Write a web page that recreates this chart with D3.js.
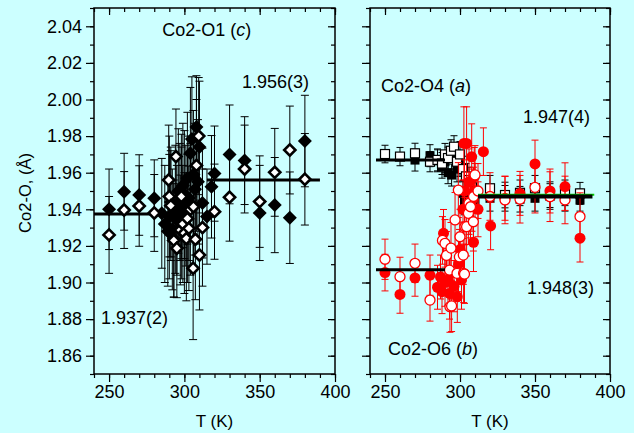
<!DOCTYPE html>
<html><head><meta charset="utf-8">
<script src="https://cdn.jsdelivr.net/npm/d3@7"></script>
<style>
body{margin:0;background:#ccffff;}
svg{display:block;font-family:"Liberation Sans",Arial,sans-serif;}
</style>
</head><body>
<svg id="chart" width="634" height="433"></svg>
<script>
// ---- Co2-O1 (c): filled and open diamonds ----
const o1FilledT = [250,260,270,280,285,287,289,290,291,292,293,294,295,296,297,298,299,300,301,302,303,304,305,306,307,308,309,310,312,315,318,320,330,340,350,360,370,380];
const o1FilledV = [1.940,1.9496,1.9478,1.946,1.9378,1.932,1.928,1.936,1.944,1.929,1.924,1.940,1.934,1.950,1.944,1.938,1.953,1.948,1.942,1.957,1.946,1.9706,1.9784,1.959,1.951,1.985,1.955,1.974,1.9434,1.936,1.9523,1.9595,1.970,1.9666,1.938,1.9423,1.9354,1.9773];
const o1FilledE = [0.022,0.021,0.022,0.021,0.030,0.032,0.030,0.034,0.030,0.033,0.032,0.035,0.030,0.034,0.032,0.036,0.034,0.035,0.033,0.036,0.034,0.036,0.034,0.035,0.036,0.028,0.034,0.036,0.030,0.026,0.028,0.026,0.027,0.024,0.026,0.026,0.025,0.025];

const o1OpenT = [250,260,270,280,289.6,290,291,293,294.4,295,297.3,298,299,300,301.3,302,303,304,305.8,306,307.3,308,309.5,310,312,320,330,340,350,360,370,380];
const o1OpenV = [1.926,1.9396,1.9418,1.938,1.956,1.947,1.942,1.923,1.9688,1.9187,1.9287,1.947,1.932,1.927,1.924,1.935,1.9296,1.940,1.9078,1.9414,1.9236,1.964,1.980,1.915,1.930,1.9387,1.9466,1.962,1.9442,1.9602,1.9724,1.9564];
const o1OpenE = [0.021,0.021,0.022,0.021,0.030,0.033,0.030,0.031,0.026,0.027,0.030,0.034,0.032,0.033,0.034,0.035,0.034,0.036,0.039,0.035,0.033,0.036,0.032,0.030,0.032,0.026,0.024,0.024,0.025,0.024,0.024,0.025];

// ---- Co2-O4 (a): filled and open squares ----
const o4FilledT = [270,280,285,288,290,292,294.4,296,298,300,302,303,305,307,310,320,330,340,350,360,370,380];
const o4FilledV = [1.9669,1.9693,1.9665,1.963,1.966,1.960,1.9587,1.968,1.962,1.965,1.9487,1.944,1.946,1.948,1.945,1.946,1.946,1.9455,1.946,1.947,1.946,1.945];
const o4FilledE = [0.006,0.006,0.006,0.006,0.006,0.006,0.006,0.006,0.007,0.007,0.007,0.007,0.007,0.007,0.007,0.007,0.007,0.007,0.007,0.007,0.007,0.006];

const o4OpenT = [250,260,270,280,285,288,290,292,294,296,298,300,302,304,306,308,310,320,330,340,350,360,370,380];
const o4OpenV = [1.9702,1.9688,1.9706,1.966,1.967,1.965,1.970,1.968,1.972,1.9742,1.966,1.970,1.962,1.958,1.956,1.952,1.950,1.9515,1.9478,1.949,1.9515,1.948,1.949,1.9487];
const o4OpenE = [0.0048,0.005,0.0055,0.0055,0.006,0.006,0.006,0.006,0.006,0.006,0.006,0.007,0.007,0.007,0.007,0.007,0.007,0.007,0.007,0.007,0.007,0.007,0.007,0.006];

// ---- Co2-O6 (b): filled and open circles ----
const o6FilledT = [250,260,270,280,285,287,288,289,290,292,293,294,296,298.2,299,300,301,302,302.6,303,304.4,306,307.8,308,309,309.5,310,312,315.6,320.4,330,340,350,360,370,380];
const o6FilledV = [1.9054,1.8935,1.9025,1.904,1.8974,1.903,1.895,1.9269,1.900,1.9014,1.894,1.905,1.898,1.8922,1.910,1.918,1.9014,1.940,1.976,1.950,1.976,1.955,1.9687,1.945,1.922,1.9578,1.950,1.940,1.9715,1.9309,1.946,1.9487,1.9648,1.950,1.9524,1.9242];
const o6FilledE = [0.010,0.0103,0.010,0.011,0.012,0.012,0.012,0.013,0.013,0.014,0.014,0.014,0.014,0.014,0.015,0.015,0.016,0.016,0.020,0.017,0.020,0.018,0.018,0.017,0.016,0.016,0.015,0.015,0.013,0.013,0.012,0.012,0.013,0.012,0.013,0.013];

const o6OpenT = [250,260,270,280,288.3,290,291,293,293.3,294,294.4,296.7,298,298.9,299.6,300,302.2,302.4,303,303.3,304.4,305.6,306,307,308.9,309,310,312,320,330,340,350,360,370,380];
const o6OpenV = [1.9127,1.9032,1.9105,1.8904,1.923,1.9214,1.9148,1.9068,1.8868,1.9188,1.8872,1.9342,1.905,1.9505,1.914,1.925,1.915,1.905,1.9046,1.9305,1.9305,1.9378,1.9433,1.9414,1.9332,1.947,1.9588,1.950,1.947,1.9451,1.9455,1.952,1.9469,1.9451,1.936];
const o6OpenE = [0.011,0.0106,0.0105,0.0115,0.013,0.013,0.013,0.014,0.014,0.014,0.014,0.015,0.014,0.015,0.015,0.015,0.016,0.016,0.016,0.016,0.016,0.017,0.017,0.017,0.016,0.016,0.016,0.015,0.013,0.013,0.013,0.014,0.0136,0.013,0.013];

// ---- fitted average levels ----
const o1FitT = [[240,285],[315,390]];
const o1FitV = [1.9375,1.956];
const lowFitT = [[244,290],[244,290]];
const lowFitV = [1.967,1.907];
const o6HighFitT = [312,389.5];
const o6HighFitV = 1.948;
const o4HighFitT = [312,388.3];
const o4HighFitV = 1.947;

const xTicksMajor = [250,300,350,400];
const yTicksMajor = [1.86,1.88,1.90,1.92,1.94,1.96,1.98,2.00,2.02,2.04];

const svg = d3.select("#chart");
const yScale = d3.scaleLinear().domain([1.85,2.05]).range([374,8]);
const xLeft = d3.scaleLinear().domain([240,400]).range([94,335]);
const xRight = d3.scaleLinear().domain([240,400]).range([370,610]);
const minorX = d3.range(240,401,10);
const minorY = d3.range(1.85,2.0501,0.01).map(v => +v.toFixed(2));

function frame(x, withLabels){
  const g = svg.append("g");
  const [x0,x1] = x.range();
  const [y0,y1] = [yScale.range()[1], yScale.range()[0]];
  // bottom: outward ticks
  g.append("g").attr("transform",`translate(0,${y1})`)
    .call(d3.axisBottom(x).tickValues(minorX).tickSize(4).tickFormat(""));
  g.append("g").attr("transform",`translate(0,${y1})`)
    .call(d3.axisBottom(x).tickValues(xTicksMajor).tickSize(8).tickPadding(3).tickFormat(d3.format("d")));
  // top: inward ticks
  g.append("g").attr("transform",`translate(0,${y0})`)
    .call(d3.axisBottom(x).tickValues(minorX).tickSize(4).tickFormat(""));
  g.append("g").attr("transform",`translate(0,${y0})`)
    .call(d3.axisBottom(x).tickValues(xTicksMajor).tickSize(7).tickFormat(""));
  // left: outward ticks
  g.append("g").attr("transform",`translate(${x0},0)`)
    .call(d3.axisLeft(yScale).tickValues(minorY).tickSize(4).tickFormat(""));
  g.append("g").attr("transform",`translate(${x0},0)`)
    .call(d3.axisLeft(yScale).tickValues(yTicksMajor).tickSize(8).tickPadding(4)
      .tickFormat(withLabels ? d3.format(".2f") : ""));
  // right: inward ticks
  g.append("g").attr("transform",`translate(${x1},0)`)
    .call(d3.axisLeft(yScale).tickValues(minorY).tickSize(4).tickFormat(""));
  g.append("g").attr("transform",`translate(${x1},0)`)
    .call(d3.axisLeft(yScale).tickValues(yTicksMajor).tickSize(7).tickFormat(""));
  g.selectAll(".domain").remove();
  g.selectAll(".tick line").attr("stroke","#000").attr("stroke-width",1.2);
  g.selectAll(".tick text").attr("font-size",18).attr("fill","#000")
    .attr("font-family","'Liberation Sans',Arial,sans-serif");
  g.append("rect").attr("x",x0).attr("y",y0).attr("width",x1-x0).attr("height",y1-y0)
    .attr("fill","none").attr("stroke","#000").attr("stroke-width",1.5);
  svg.append("text").attr("x",(x0+x1)/2).attr("y",427).attr("text-anchor","middle")
    .attr("font-size",17).text("T (K)");
}

function errorBars(g, x, T, V, E, color, cap){
  const data = T.map((t,i)=>({t, v:V[i], e:E[i]}));
  const eg = g.append("g").attr("stroke",color).attr("stroke-width",1);
  eg.selectAll(".v").data(data).join("line")
    .attr("x1",d=>x(d.t)).attr("x2",d=>x(d.t))
    .attr("y1",d=>yScale(d.v+d.e)).attr("y2",d=>yScale(d.v-d.e));
  eg.selectAll(".t").data(data).join("line")
    .attr("x1",d=>x(d.t)-cap/2).attr("x2",d=>x(d.t)+cap/2)
    .attr("y1",d=>yScale(d.v+d.e)).attr("y2",d=>yScale(d.v+d.e));
  eg.selectAll(".b").data(data).join("line")
    .attr("x1",d=>x(d.t)-cap/2).attr("x2",d=>x(d.t)+cap/2)
    .attr("y1",d=>yScale(d.v-d.e)).attr("y2",d=>yScale(d.v-d.e));
  return data;
}

function fitLine(g, x, t0, t1, v, color, w){
  g.append("line").attr("x1",x(t0)).attr("x2",x(t1))
    .attr("y1",yScale(v)).attr("y2",yScale(v))
    .attr("stroke",color).attr("stroke-width",w);
}

function label(x, y, parts, anchor){
  const t = svg.append("text").attr("x",x).attr("y",y).attr("font-size",18)
    .attr("text-anchor",anchor||"start");
  parts.forEach(p => t.append("tspan").attr("font-style",p[1]?"italic":null).text(p[0]));
}

// ---------- left panel ----------
frame(xLeft, true);
const gL = svg.append("g");
o1FitT.forEach((r,i)=>fitLine(gL, xLeft, r[0], r[1], o1FitV[i], "#000", 3));
const diamond = s => `M0,${-s}L${s},0L0,${s}L${-s},0Z`;
const dF = errorBars(gL, xLeft, o1FilledT, o1FilledV, o1FilledE, "#000", 8);
gL.append("g").selectAll("path").data(dF).join("path")
  .attr("d",diamond(7)).attr("transform",d=>`translate(${xLeft(d.t)},${yScale(d.v)})`)
  .attr("fill","#000");
const dO = errorBars(gL, xLeft, o1OpenT, o1OpenV, o1OpenE, "#000", 8);
gL.append("g").selectAll("path").data(dO).join("path")
  .attr("d",diamond(5.6)).attr("transform",d=>`translate(${xLeft(d.t)},${yScale(d.v)})`)
  .attr("fill","#fff").attr("stroke","#000").attr("stroke-width",2.6);

// ---------- right panel ----------
frame(xRight, false);
const gR = svg.append("g");
const sF = errorBars(gR, xRight, o4FilledT, o4FilledV, o4FilledE, "#000", 7);
gR.append("g").selectAll("rect").data(sF).join("rect")
  .attr("x",d=>xRight(d.t)-4.5).attr("y",d=>yScale(d.v)-4.5).attr("width",9).attr("height",9)
  .attr("fill","#000");
const sO = errorBars(gR, xRight, o4OpenT, o4OpenV, o4OpenE, "#000", 7);
gR.append("g").selectAll("rect").data(sO).join("rect")
  .attr("x",d=>xRight(d.t)-4.5).attr("y",d=>yScale(d.v)-4.5).attr("width",9).attr("height",9)
  .attr("fill","#fff").attr("stroke","#000").attr("stroke-width",1.2);
const cF = errorBars(gR, xRight, o6FilledT, o6FilledV, o6FilledE, "#ff0000", 7);
gR.append("g").selectAll("circle").data(cF).join("circle")
  .attr("cx",d=>xRight(d.t)).attr("cy",d=>yScale(d.v)).attr("r",5.5).attr("fill","#ff0000");
const cO = errorBars(gR, xRight, o6OpenT, o6OpenV, o6OpenE, "#ff0000", 7);
gR.append("g").selectAll("circle").data(cO).join("circle")
  .attr("cx",d=>xRight(d.t)).attr("cy",d=>yScale(d.v)).attr("r",5)
  .attr("fill","#fff").attr("stroke","#ff0000").attr("stroke-width",1.3);
lowFitT.forEach((r,i)=>fitLine(gR, xRight, r[0], r[1], lowFitV[i], "#000", 3));
fitLine(gR, xRight, o6HighFitT[0], o6HighFitT[1], o6HighFitV, "#00cc00", 2);
fitLine(gR, xRight, o4HighFitT[0], o4HighFitT[1], o4HighFitV, "#000", 4);

// ---------- annotations ----------
label(206.7, 36, [["Co2-O1 ("],["c",true],[")"]], "middle");
label(242, 88, [["1.956(3)"]]);
label(101, 324, [["1.937(2)"]]);
label(381, 92, [["Co2-O4 ("],["a",true],[")"]]);
label(523, 123, [["1.947(4)"]]);
label(527, 294, [["1.948(3)"]]);
label(388, 355, [["Co2-O6 ("],["b",true],[")"]]);

svg.append("text").attr("transform","translate(31,193) rotate(-90)")
  .attr("text-anchor","middle").attr("font-size",16.5).text("Co2-O, (Å)");
</script>
</body></html>
